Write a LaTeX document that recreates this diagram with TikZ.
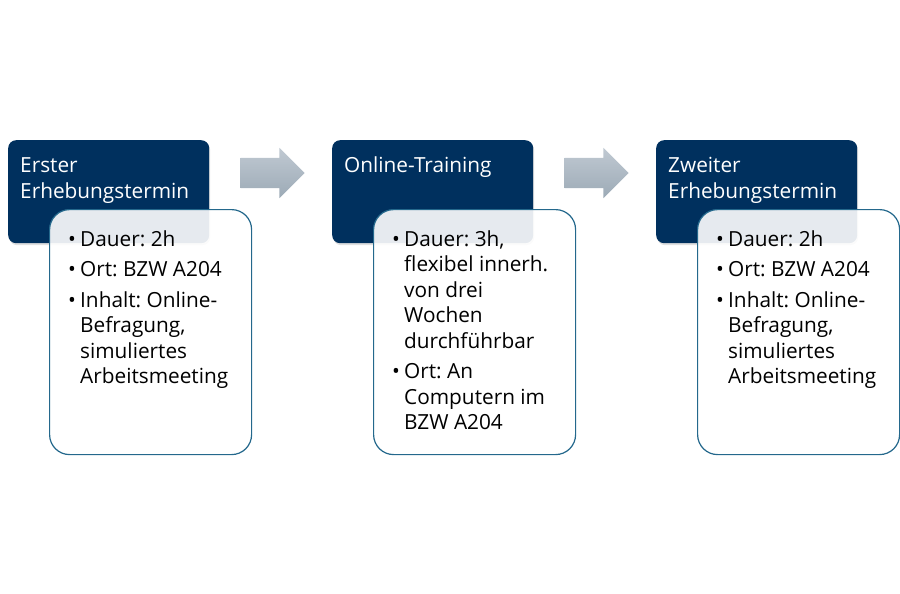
\documentclass[tikz,border=0pt]{standalone}
\usepackage{fontspec}
\setmainfont{Open Sans}
\usetikzlibrary{shapes.arrows,shadows,positioning}
\definecolor{navy}{RGB}{0,48,94}
\definecolor{rahmen}{RGB}{36,104,140}
\definecolor{pfeiloben}{RGB}{192,201,210}
\definecolor{pfeilunten}{RGB}{156,170,182}
\newcommand\pkt{\textbullet}
\newenvironment{punkte}{\frenchspacing\begin{tabular}[t]{@{}p{12pt}@{}l@{}}}{\end{tabular}}

\begin{document}
\begin{tikzpicture}
[x=1pt,y=-1pt,
titel/.style={shape=rectangle,rounded corners=8pt,fill=navy,minimum width=201pt,minimum height=103pt,anchor=north west,inner sep=0pt,
  drop shadow={opacity=0.25,shadow xshift=1pt,shadow yshift=-2pt}},
titeltext/.style={text=white,anchor=base west,inner sep=0pt,align=left,font=\fontsize{20.8}{26}\selectfont},
inhalt/.style={shape=rectangle,rounded corners=20pt,draw=rahmen,line width=1.2pt,fill=white,fill opacity=0.9,minimum width=202pt,minimum height=245pt,anchor=north west,inner sep=0pt},
inhalttext/.style={anchor=base west,inner sep=0pt,font=\fontsize{20.8}{25.5}\selectfont},
pfeil/.style={single arrow,shape border rotate=0,minimum height=64pt,minimum width=50pt,single arrow head extend=10pt,inner xsep=0pt,inner ysep=15pt,
  top color=pfeiloben,bottom color=pfeilunten,draw=none}]
\useasboundingbox (0,0) rectangle (900,594);
%%
\node (t1) [titel] at (8,140) {};
\node (t2) [titel] at (332,140) {};
\node (t3) [titel] at (656,140) {};
\node (tt1) [titeltext] at (20,198) {Erster\\Erhebungstermin};
\node (tt2) [titeltext] at (344,172) {Online-Training};
\node (tt3) [titeltext] at (668,198) {Zweiter\\Erhebungstermin};
%%
\node (b1) [inhalt] at (49,209) {};
\node (b2) [inhalt] at (373,209) {};
\node (b3) [inhalt] at (697,209) {};
\node (bt1) [inhalttext] at (68,246) {\begin{punkte}
  \pkt & Dauer: 2h\\[5pt]
  \pkt & Ort: BZW A204\\[5pt]
  \pkt & Inhalt: Online-\\ & Befragung,\\ & simuliertes\\ & Arbeitsmeeting
  \end{punkte}};
\node (bt2) [inhalttext] at (392,246) {\begin{punkte}
  \pkt & Dauer: 3h,\\ & flexibel innerh.\\ & von drei\\ & Wochen\\ & durchführbar\\[5pt]
  \pkt & Ort: An\\ & Computern im\\ & BZW A204
  \end{punkte}};
\node (bt3) [inhalttext] at (716,246) {\begin{punkte}
  \pkt & Dauer: 2h\\[5pt]
  \pkt & Ort: BZW A204\\[5pt]
  \pkt & Inhalt: Online-\\ & Befragung,\\ & simuliertes\\ & Arbeitsmeeting
  \end{punkte}};
%%
\node (p1) [pfeil] at (265,173) {};
\node (p2) [pfeil] at (589,173) {};
%%
\end{tikzpicture}
\end{document}
